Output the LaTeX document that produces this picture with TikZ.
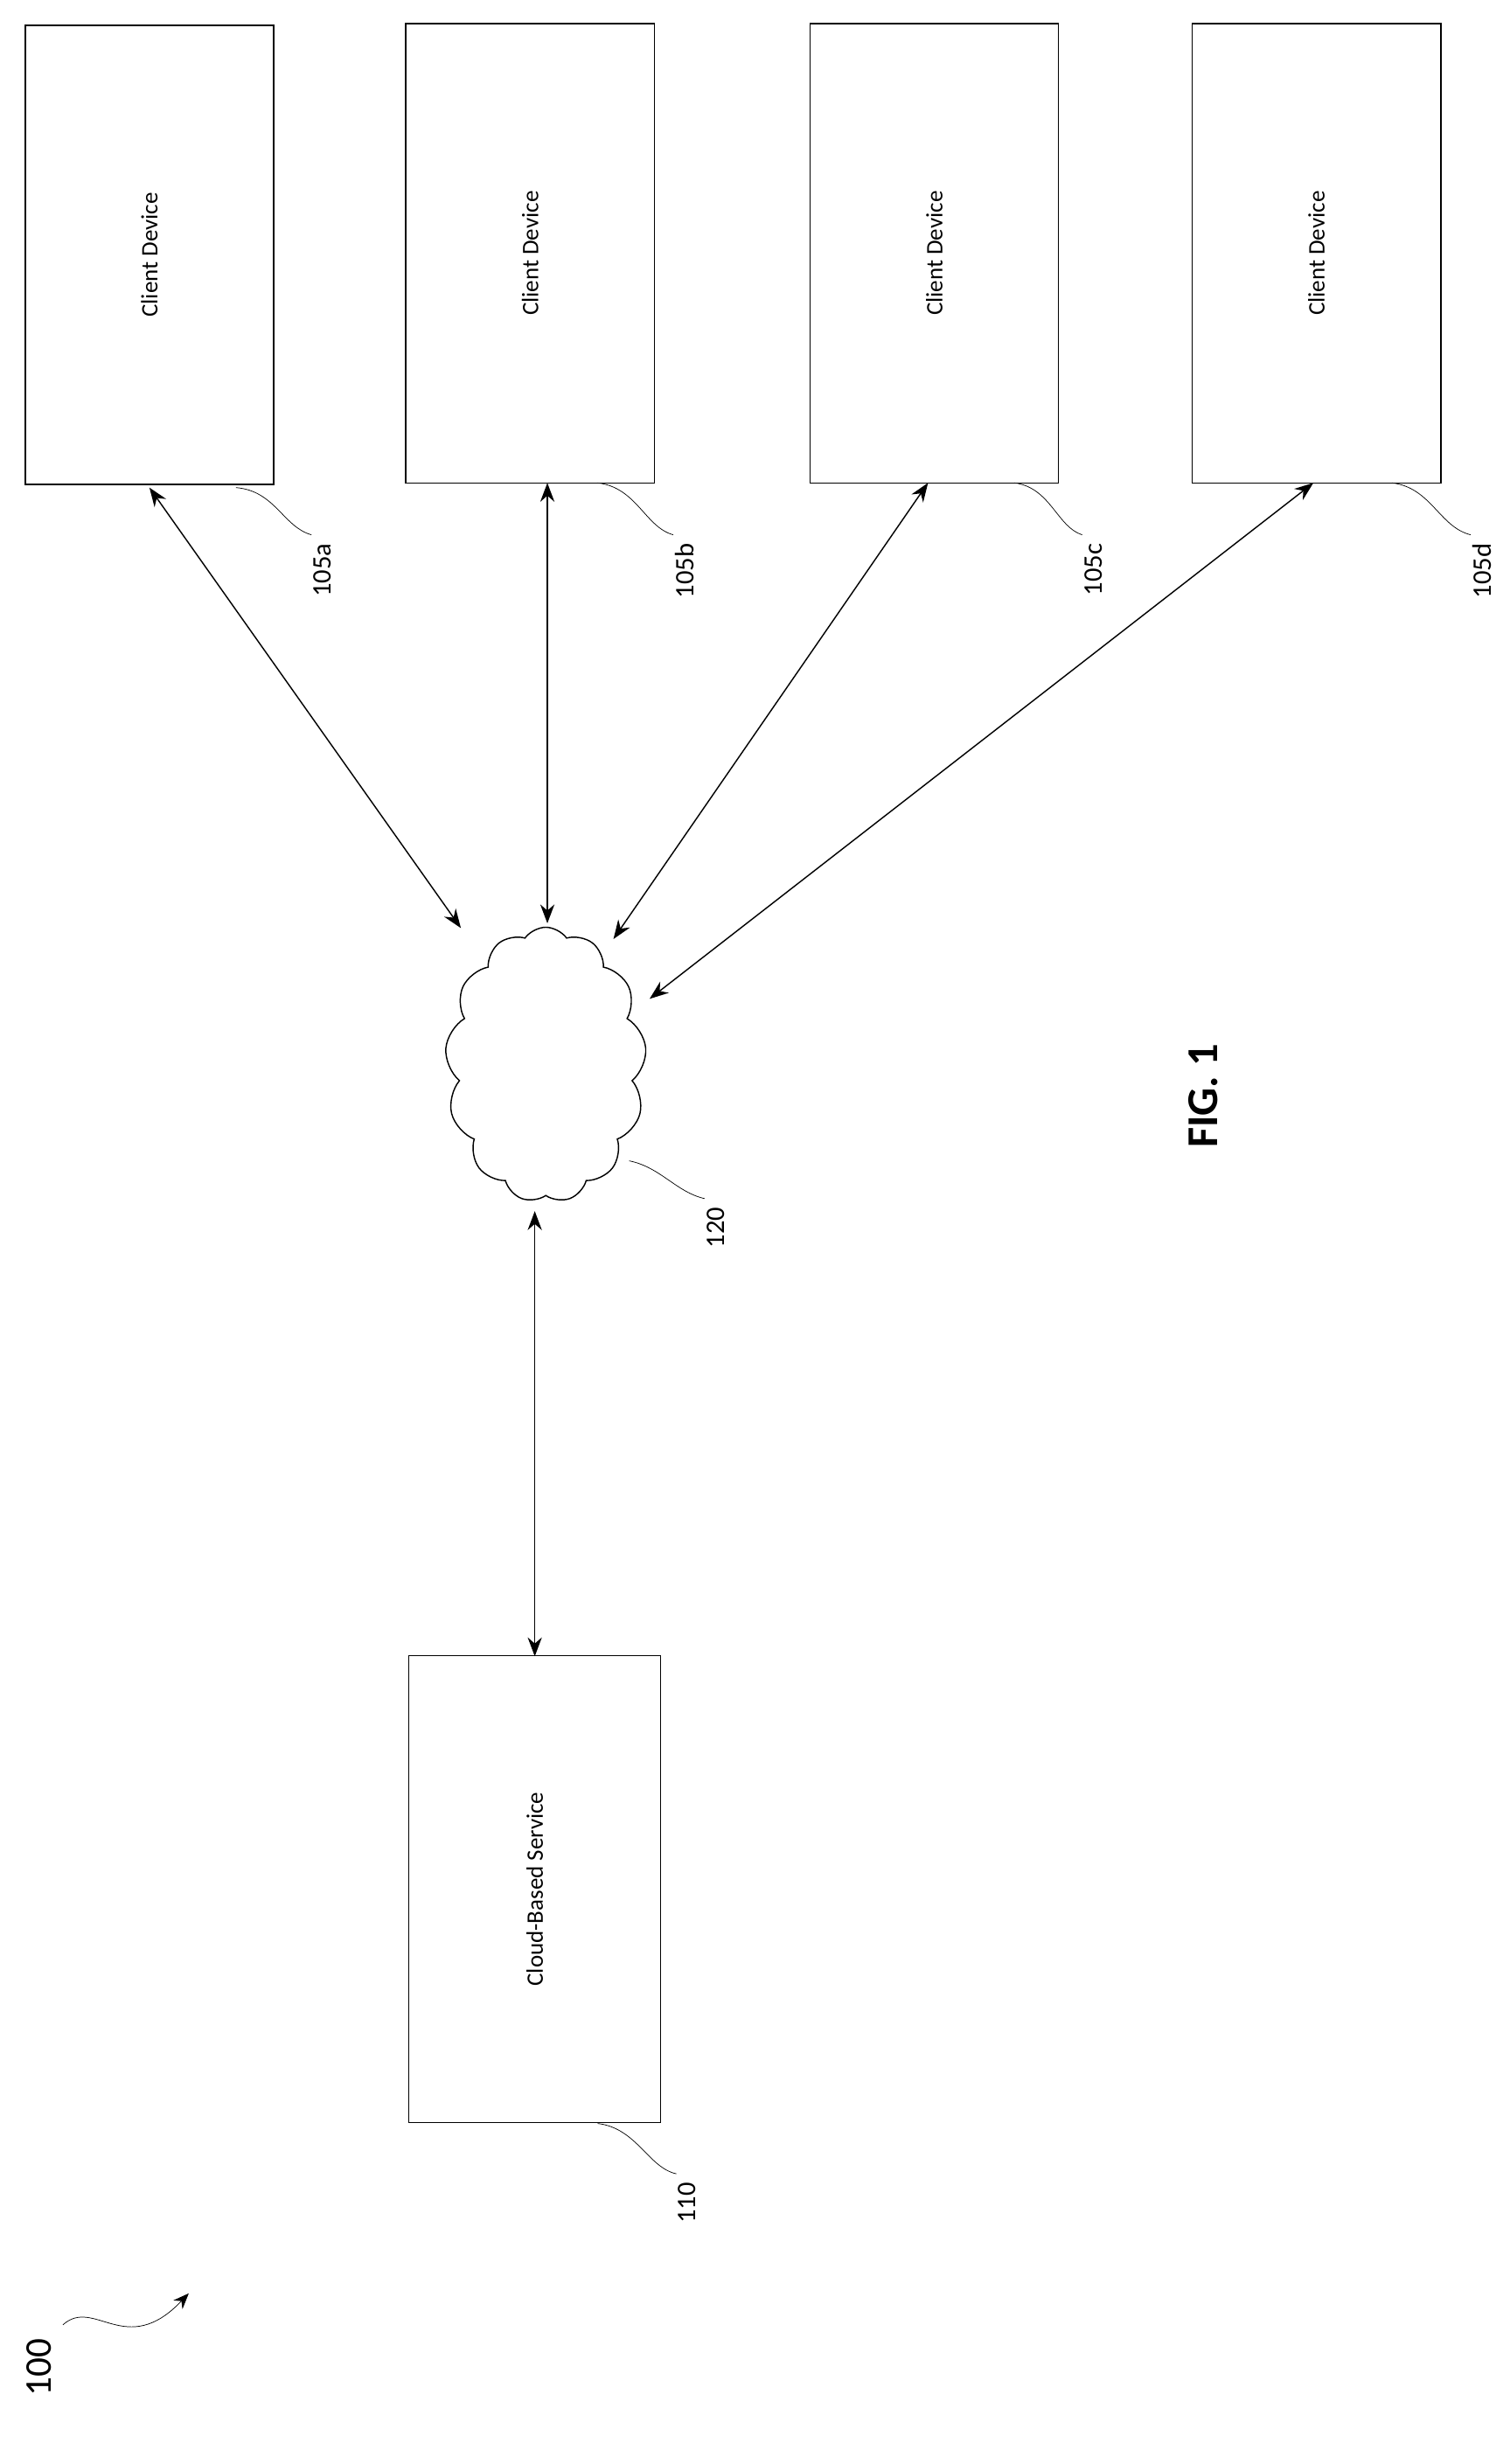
\documentclass[tikz,border=0pt]{standalone}
\usepackage{fontspec}
\setmainfont{Carlito}
\usetikzlibrary{arrows.meta,shapes.symbols}

\tikzset{
  box/.style={draw,thick,minimum width=158pt,minimum height=292pt,inner sep=0pt},
  boxtext/.style={rotate=90,font=\fontsize{15}{17}\selectfont},
  link/.style={thick,{Stealth[length=12pt,width=9pt]}-{Stealth[length=12pt,width=9pt]}},
  lead/.style={thin},
  ref/.style={rotate=90,anchor=east,font=\fontsize{17}{19}\selectfont}
}

\begin{document}
\begin{tikzpicture}[x=1pt,y=-1pt]
        \useasboundingbox (0,0) rectangle (960,1566.5);
        % client devices
        \node [box] (cda) at (95,162) {};
        \node [boxtext] at (cda) {Client Device};
        \node [box] (cdb) at (337,161) {};
        \node [boxtext] at (cdb) {Client Device};
        \node [box] (cdc) at (594,161) {};
        \node [boxtext] at (cdc) {Client Device};
        \node [box] (cdd) at (837,161) {};
        \node [boxtext] at (cdd) {Client Device};
        % network and service
        \node [cloud,draw,thick,cloud puffs=13,cloud puff arc=110,aspect=0.75,
          minimum width=128pt,minimum height=175pt,inner sep=0pt] (net) at (347,677) {};
        \node [box,minimum width=160pt,minimum height=297pt] (svc) at (340,1201) {};
        \node [boxtext] at (svc) {Cloud-Based Service};
        % connectors
        \coordinate (na) at (293,590);
        \coordinate (nb) at (348,587);
        \coordinate (nc) at (390,597);
        \coordinate (nd) at (413,635);
        \coordinate (ns) at (340,770);
        \draw [link] (95,310) -- (na);
        \draw [link] (348,307) -- (nb);
        \draw [link] (590,307) -- (nc);
        \draw [link] (835,307) -- (nd);
        \draw [link] (340,1053) -- (ns);
        % reference numerals
        \draw [lead] (150,310) .. controls (175,312) and (180,335) .. (198,340);
        \node [ref] at (205,342) {105a};
        \draw [lead] (380,307) .. controls (405,310) and (410,335) .. (428,340);
        \node [ref] at (435,342) {105b};
        \draw [lead] (645,307) .. controls (668,310) and (672,335) .. (688,340);
        \node [ref] at (695,342) {105c};
        \draw [lead] (885,307) .. controls (910,310) and (915,335) .. (935,340);
        \node [ref] at (942,342) {105d};
        \draw [lead] (400,738) .. controls (420,742) and (430,758) .. (448,762);
        \node [ref] at (455,764) {120};
        \draw [lead] (380,1350) .. controls (405,1353) and (412,1378) .. (430,1382);
        \node [ref] at (437,1384) {110};
        \node [ref,font=\fontsize{28}{30}\selectfont\bfseries] at (765,660) {FIG. 1};
        \node [ref,font=\fontsize{24}{26}\selectfont,anchor=center] (num) at (25,1505) {100};
        \draw [thin,-{Stealth[length=10pt,width=8pt]}] (40,1478) .. controls (60,1460) and (80,1500) .. (120,1458);
      \end{tikzpicture}
\end{document}
